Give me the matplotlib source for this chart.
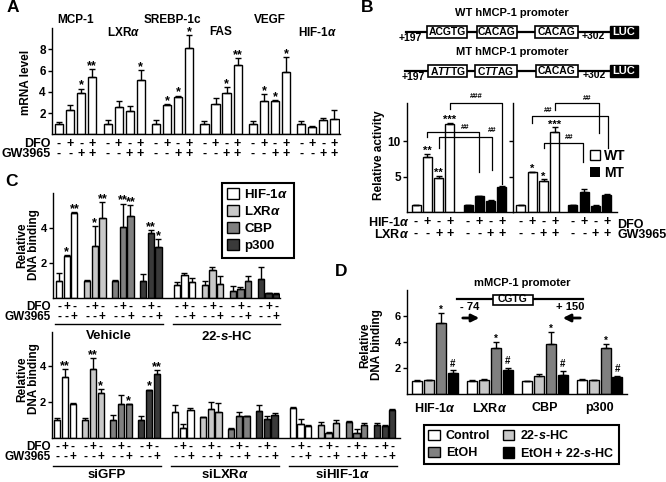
import numpy as np
import matplotlib
matplotlib.use('Agg')
import matplotlib.pyplot as plt
from matplotlib.patches import Patch, Rectangle
from matplotlib.transforms import blended_transform_factory

plt.rcParams['font.family'] = ['Liberation Sans', 'DejaVu Sans']
plt.rcParams['font.weight'] = 'bold'
plt.rcParams['mathtext.fontset'] = 'custom'
plt.rcParams['mathtext.it'] = 'Liberation Sans:italic:bold'
plt.rcParams['mathtext.rm'] = 'Liberation Sans:bold'
plt.rcParams['axes.linewidth'] = 1.0

# ---------------- data ----------------
# A: mRNA level, 4 conditions per gene
a_genes = ['MCP-1', 'LXR$\\alpha$', 'SREBP-1c', 'FAS', 'VEGF', 'HIF-1$\\alpha$']
a_mean = [[1.0, 2.25, 3.9, 5.4],
          [1.0, 2.55, 2.2, 5.1],
          [1.0, 2.8, 3.5, 8.1],
          [1.0, 2.9, 3.85, 6.5],
          [1.0, 3.1, 3.15, 5.9],
          [1.0, 0.72, 1.4, 1.45]]
a_err = [[0.15, 0.5, 0.4, 0.7],
         [0.35, 0.55, 0.5, 0.95],
         [0.4, 0.05, 0.15, 1.25],
         [0.3, 0.5, 0.6, 0.65],
         [0.25, 0.7, 0.05, 1.35],
         [0.25, 0.05, 0.1, 0.85]]
a_sig = [['', '', '*', '**'], ['', '', '', '*'], ['', '*', '*', '*'],
         ['', '', '*', '**'], ['', '*', '*', '*'], ['', '', '', '']]
dfo4 = ['-', '+', '-', '+']
gw4 = ['-', '-', '+', '+']

# B: luciferase activity, WT / MT promoter
b_wt_left = [1.0, 7.8, 4.8, 12.5]
b_wt_left_err = [0.0, 0.35, 0.3, 0.1]
b_mt_left = [1.0, 2.2, 1.6, 3.6]
b_mt_left_err = [0.03, 0.08, 0.04, 0.05]
b_wt_right = [1.0, 5.6, 4.45, 11.3]
b_wt_right_err = [0.0, 0.12, 0.15, 0.65]
b_mt_right = [1.0, 2.85, 0.9, 2.4]
b_mt_right_err = [0.04, 0.4, 0.04, 0.08]
b_sig_left = ['', '**', '**', '***']
b_sig_right = ['', '*', '*', '***']

# C: relative DNA binding (ChIP)
c_proteins = ['HIF-1$\\alpha$', 'LXR$\\alpha$', 'CBP', 'p300']
c_colors = ['white', '#c8c8c8', '#808080', '#3a3a3a']
dfo3 = ['-', '+', '-']
gw3 = ['-', '-', '+']
c_top_sets = ['Vehicle', '22-$s$-HC']
c_top_mean = [[[1.0, 2.38, 4.86], [1.0, 2.95, 4.57], [1.0, 4.04, 4.67], [1.0, 3.71, 2.9]],
              [[0.72, 1.3, 0.9], [0.72, 1.62, 0.8], [0.42, 0.51, 0.95], [1.09, 0.29, 0.25]]]
c_top_err = [[[0.43, 0.06, 0.03], [0.03, 1.15, 0.9], [0.02, 1.36, 0.63], [0.37, 0.16, 0.47]],
             [[0.19, 0.13, 0.24], [0.23, 0.18, 0.44], [0.25, 0.12, 0.29], [0.68, 0.02, 0.02]]]
c_top_sig = [[['', '*', '**'], ['', '*', '**'], ['', '**', '**'], ['', '**', '*']],
             [['', '', ''], ['', '', ''], ['', '', ''], ['', '', '']]]
c_bot_sets = ['siGFP', 'siLXR$\\alpha$', 'siHIF-1$\\alpha$']
c_bot_mean = [[[1.02, 3.39, 1.9], [1.0, 3.85, 2.5], [1.0, 1.9, 1.87], [1.0, 2.65, 3.57]],
              [[1.44, 0.57, 1.54], [1.17, 1.63, 1.44], [0.52, 1.22, 1.22], [1.48, 1.04, 1.3]],
              [[1.65, 0.76, 0.67], [0.7, 0.3, 0.85], [0.89, 0.3, 0.7], [0.74, 0.67, 1.54]]]
c_bot_err = [[[0.11, 0.46, 0.03], [0.1, 0.6, 0.24], [0.26, 0.52, 0.03], [0.25, 0.04, 0.19]],
             [[0.37, 0.23, 0.15], [0.02, 0.37, 0.5], [0.04, 0.22, 0.02], [0.33, 0.16, 0.1]],
             [[0.1, 0.31, 0.03], [0.19, 0.02, 0.13], [0.05, 0.18, 0.13], [0.11, 0.03, 0.09]]]
c_bot_sig = [[['', '**', ''], ['', '**', '*'], ['', '', '*'], ['', '*', '**']],
             [['', '', ''], ['', '', ''], ['', '', ''], ['', '', '']],
             [['', '', ''], ['', '', ''], ['', '', ''], ['', '', '']]]

# D: ChIP on mMCP-1 promoter
d_targets = ['HIF-1$\\alpha$', 'LXR$\\alpha$', 'CBP', 'p300']
d_conds = ['Control', '22-$s$-HC', 'EtOH', 'EtOH + 22-$s$-HC']
d_colors = ['white', '#c8c8c8', '#808080', 'black']
d_mean = [[1.03, 1.06, 5.49, 1.62],
          [1.03, 1.1, 3.53, 1.82],
          [0.98, 1.36, 3.86, 1.49],
          [1.1, 1.06, 3.53, 1.29]]
d_err = [[0.03, 0.03, 0.76, 0.2],
         [0.03, 0.03, 0.46, 0.21],
         [0.03, 0.21, 0.89, 0.31],
         [0.03, 0.03, 0.3, 0.12]]
d_sig = ['', '', '*', '#']

# ---------------- figure ----------------
W, H = 666, 482
fig = plt.figure(figsize=(W / 100, H / 100), dpi=100)
ov = fig.add_axes([0, 0, 1, 1])
ov.set_xlim(0, W)
ov.set_ylim(H, 0)
ov.axis('off')


def box(x0, y0, x1, y1):
    return fig.add_axes([x0 / W, 1 - y1 / H, (x1 - x0) / W, (y1 - y0) / H])


def style(ax, ylim, yticks, labels=True, tsize=8.5):
    ax.set_ylim(*ylim)
    ax.set_yticks(yticks)
    if not labels:
        ax.set_yticklabels([])
    ax.set_xticks([])
    for s in ('top', 'right'):
        ax.spines[s].set_visible(False)
    ax.tick_params(axis='y', direction='out', length=3, width=1, labelsize=tsize, pad=1.5)
    ax.patch.set_alpha(0)


def bars(ax, x, h, err, color, width, sig=None, ssize=9):
    ax.bar(x, h, width, color=color, edgecolor='black', linewidth=1, zorder=2)
    err = np.asarray(err)
    ax.errorbar(x, h, yerr=[np.zeros_like(err), err], fmt='none', ecolor='black',
                elinewidth=1, capsize=2.5, capthick=1, zorder=3)
    if sig is not None:
        for xi, hi, ei, s in zip(x, h, err, sig):
            if s:
                off = 2.5 if s == '#' else 0
                ax.annotate(s, (xi, hi + ei), xytext=(0, off), textcoords='offset points',
                            ha='center', va='baseline', fontsize=ssize, annotation_clip=False)


def rowtxt(ax, xs, labels, ypx, size=9):
    tr = blended_transform_factory(ax.transData, ov.transData)
    for x, s in zip(xs, labels):
        ax.text(x, ypx, s, transform=tr, ha='center', va='center', fontsize=size, clip_on=False)


def uline(ax, x0, x1, ypx, label, ylab):
    tr = blended_transform_factory(ax.transData, ov.transData)
    ax.plot([x0, x1], [ypx, ypx], color='black', lw=1, transform=tr, clip_on=False)
    ax.text((x0 + x1) / 2, ylab, label, transform=tr, ha='center', va='center', fontsize=9.5)


# panel letters
for lab, (x, y) in zip('ABCD', [(13, 8), (367, 8), (11, 182), (341, 272)]):
    ov.text(x, y, lab, fontsize=12.5, ha='center', va='center')

# ---------- A ----------
axA = box(52, 28, 340, 134.4)
xsA = []
for g in range(6):
    x = g * 4.4 + np.arange(4)
    bars(axA, x, a_mean[g], a_err[g], 'white', 0.73, a_sig[g])
    xsA.extend(x)
    tr = blended_transform_factory(axA.transData, ov.transData)
    axA.text(x.mean(), [20, 32][g % 2], a_genes[g], transform=tr, ha='center',
             va='center', fontsize=8.5)
axA.set_xlim(-0.64, 25.5)
style(axA, (0, 10), [2, 4, 6, 8])
rowtxt(axA, xsA, dfo4 * 6, 144)
rowtxt(axA, xsA, gw4 * 6, 154)
ov.text(51, 144, 'DFO', ha='right', va='center', fontsize=9)
ov.text(51, 154, 'GW3965', ha='right', va='center', fontsize=9)
ov.text(26, 82, 'mRNA level', rotation=90, ha='center', va='center', fontsize=8.5)


# ---------- B promoter diagrams ----------
def promoter(ytitle, title, yline, boxes, x0, pos):
    ov.text(512, ytitle, title, ha='center', va='center', fontsize=8)
    ov.plot([x0, 612], [yline, yline], color='black', lw=1.6, zorder=1)
    for bx0, bx1, txt in boxes:
        ov.add_patch(Rectangle((bx0, yline - 6), bx1 - bx0, 12, facecolor='white',
                               edgecolor='black', lw=1.2, zorder=2))
        ov.text((bx0 + bx1) / 2, yline, txt, ha='center', va='center', fontsize=7.5, zorder=3)
    ov.add_patch(Rectangle((610, yline - 6), 28, 12, facecolor='black', edgecolor='black',
                           zorder=2))
    ov.text(624, yline, 'LUC', color='white', ha='center', va='center', fontsize=8, zorder=3)
    ov.text(pos[0], yline + 6, '+197', ha='center', va='center', fontsize=7.5)
    ov.text(pos[1], yline + 4, '+302', ha='center', va='center', fontsize=7.5)


promoter(13, 'WT hMCP-1 promoter', 32,
         [(427, 467, 'ACGTG'), (477, 517, 'CACAG'), (535, 578, 'CACAG')], 406, (410, 593))
promoter(52, 'MT hMCP-1 promoter', 71,
         [(428, 467, 'A$TT$TG'), (475, 517, 'C$TT$AG'), (536, 578, 'CACAG')], 405, (413, 594))

# ---------- B bars ----------
axBL = box(407, 103, 513, 212)
axBR = box(513, 103, 617, 212)
posB = np.array([0, 1, 2, 3, 4.6, 5.6, 6.6, 7.6])
bars(axBL, posB[:4], b_wt_left, b_wt_left_err, 'white', 0.8, b_sig_left, 8)
bars(axBL, posB[4:], b_mt_left, b_mt_left_err, 'black', 0.8)
bars(axBR, posB[:4], b_wt_right, b_wt_right_err, 'white', 0.8, b_sig_right, 8)
bars(axBR, posB[4:], b_mt_right, b_mt_right_err, 'black', 0.8)
axBL.set_xlim(-0.8, 8.58)
axBR.set_xlim(-0.7, 8.5)
style(axBL, (0, 15.4), [5, 10])
style(axBR, (0, 15.4), [5, 10], labels=False)
ov.text(379, 155, 'Relative activity', rotation=90, ha='center', va='center', fontsize=8.5)


def bracket(ax, xa, xb, yl, ya, yb, lx, ly, lab):
    ax.plot([xa, xa, xb, xb], [ya, yl, yl, yb], color='black', lw=0.9, clip_on=False)
    ax.text(lx, ly, lab, ha='center', va='center', fontsize=5.5, clip_on=False)


bracket(axBL, 3, 7.6, 15.4, 14.6, 3.9, 5.3, 16.3, '###')
bracket(axBL, 1, 5.6, 11.3, 10.6, 5.66, 4.3, 12.0, '##')
bracket(axBL, 2, 6.7, 10.6, 9.05, 5.94, 6.7, 11.45, '##')
bracket(axBR, 3, 6.9, 15.4, 14.4, 11.2, 5.84, 16.1, '##')
bracket(axBR, 1, 7.7, 13.6, 12.6, 9.05, 2.4, 14.4, '##')
bracket(axBR, 2, 5.5, 9.76, 9.05, 7.07, 4.3, 10.5, '##')

for ax in (axBL, axBR):
    rowtxt(ax, posB, dfo4 * 2, 222)
    rowtxt(ax, posB, gw4 * 2, 234)
ov.text(409, 222, 'HIF-1$\\alpha$', ha='right', va='center', fontsize=9)
ov.text(409, 234, 'LXR$\\alpha$', ha='right', va='center', fontsize=9)
ov.text(617, 225, 'DFO', ha='left', va='center', fontsize=9)
ov.text(617, 235, 'GW3965', ha='left', va='center', fontsize=9)
fig.legend(handles=[Patch(facecolor='white', edgecolor='black'), Patch(facecolor='black')],
           labels=['WT', 'MT'], loc='upper left', bbox_to_anchor=(590 / W, 1 - 149 / H),
           frameon=False, handlelength=0.7, handleheight=0.7, handletextpad=0.3,
           labelspacing=0.2, borderaxespad=0, borderpad=0, prop={'weight': 'bold', 'size': 10})


# ---------- C ----------
def cpanel(ax, means, errs, sigs, sets, ydfo, ygw, yline, ylab):
    xs = []
    for s in range(len(means)):
        for g in range(4):
            x = s * 15.29 + g * 3.64 + np.arange(3)
            bars(ax, x, means[s][g], errs[s][g], c_colors[g], 0.8, sigs[s][g], 9)
            xs.extend(x)
        uline(ax, s * 15.29 - 0.55, s * 15.29 + 3 * 3.64 + 2.55, yline, sets[s], ylab)
    rowtxt(ax, xs, dfo3 * 4 * len(means), ydfo, 8.5)
    rowtxt(ax, xs, gw3 * 4 * len(means), ygw, 8.5)
    ov.text(51, ydfo, 'DFO', ha='right', va='center', fontsize=8.5)
    ov.text(51, ygw, 'GW3965', ha='right', va='center', fontsize=8.5)


axCt = box(53, 193, 280, 298)
cpanel(axCt, c_top_mean, c_top_err, c_top_sig, c_top_sets, 307, 317, 324, 336)
axCt.set_xlim(-0.78, 28.7)
style(axCt, (0, 6), [2, 4], tsize=8)
ov.text(28, 245, 'Relative\nDNA binding', rotation=90, ha='center', va='center',
        fontsize=8.5, linespacing=1.0)
fig.legend(handles=[Patch(facecolor=c, edgecolor='black') for c in c_colors],
           labels=c_proteins, loc='upper left', bbox_to_anchor=(222 / W, 1 - 183 / H),
           frameon=True, fancybox=False, edgecolor='black', framealpha=1,
           borderaxespad=0, handlelength=0.9, handleheight=0.9, handletextpad=0.4,
           labelspacing=0.3, borderpad=0.4, prop={'weight': 'bold', 'size': 9.5}
           ).get_frame().set_linewidth(1.5)

axCb = box(52, 332, 400, 438)
cpanel(axCb, c_bot_mean, c_bot_err, c_bot_sig, c_bot_sets, 447, 457, 466, 475)
axCb.set_xlim(-0.69, 44.5)
style(axCb, (0, 5.9), [2, 4], tsize=8)
ov.text(28, 379, 'Relative\nDNA binding', rotation=90, ha='center', va='center',
        fontsize=8.5, linespacing=1.0)

# ---------- D ----------
ov.text(522, 283, 'mMCP-1 promoter', ha='center', va='center', fontsize=8)
ov.plot([457, 583], [299, 299], color='black', lw=1.6, zorder=1)
ov.add_patch(Rectangle((493, 294.5), 40, 10, facecolor='white', edgecolor='black', lw=1.2,
                       zorder=2))
ov.text(513, 299.5, 'CGTG', ha='center', va='center', fontsize=7.5, zorder=3)
ov.text(470, 307, '- 74', ha='center', va='center', fontsize=8)
ov.text(570, 307, '+ 150', ha='center', va='center', fontsize=8)
ov.annotate('', xy=(482, 318), xytext=(460, 318),
            arrowprops=dict(arrowstyle='-|>', lw=2, color='black', mutation_scale=11))
ov.annotate('', xy=(560, 318), xytext=(583, 318),
            arrowprops=dict(arrowstyle='-|>', lw=2, color='black', mutation_scale=11))

axD = box(407, 290, 627, 394)
for g in range(4):
    x = g * 4.6 + np.arange(4)
    for i in range(4):
        bars(axD, [x[i]], [d_mean[g][i]], [d_err[g][i]], d_colors[i], 0.84,
             [d_sig[i]], 7)
    tr = blended_transform_factory(axD.transData, ov.transData)
    axD.text(x.mean(), 408, d_targets[g], transform=tr, ha='center', va='center', fontsize=9)
axD.set_xlim(-0.84, 17.6)
style(axD, (0, 8), [2, 4, 6], tsize=8)
ov.text(371, 345, 'Relative\nDNA binding', rotation=90, ha='center', va='center',
        fontsize=8.5, linespacing=1.0)
hD = [Patch(facecolor=c, edgecolor='black') for c in d_colors]
order = [0, 2, 1, 3]
fig.legend(handles=[hD[i] for i in order], labels=[d_conds[i] for i in order], ncol=2,
           loc='upper left', bbox_to_anchor=(424 / W, 1 - 425 / H), frameon=True,
           fancybox=False, edgecolor='black', framealpha=1, borderaxespad=0,
           handlelength=0.9, handleheight=0.9, handletextpad=0.5, labelspacing=0.35,
           columnspacing=1.0, borderpad=0.35, prop={'weight': 'bold', 'size': 9}
           ).get_frame().set_linewidth(1.5)

fig.savefig('out.png', dpi=100)
